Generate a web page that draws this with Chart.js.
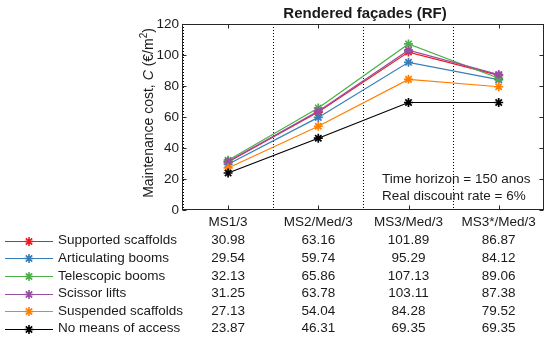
<!DOCTYPE html>
<html>
<head>
<meta charset="utf-8">
<script src="https://cdn.jsdelivr.net/npm/chart.js@4/dist/chart.umd.min.js"></script>
<style>
html,body{margin:0;padding:0;background:#fff;}
canvas{display:block;}
</style>
</head>
<body>
<canvas id="c" width="550" height="345"></canvas>
<script>
// ---- data ----
const categories = ['MS1/3', 'MS2/Med/3', 'MS3/Med/3', 'MS3*/Med/3'];
const seriesNames = ['Supported scaffolds', 'Articulating booms', 'Telescopic booms', 'Scissor lifts', 'Suspended scaffolds', 'No means of access'];
const supportedScaffolds = [30.98, 63.16, 101.89, 86.87];
const articulatingBooms = [29.54, 59.74, 95.29, 84.12];
const telescopicBooms = [32.13, 65.86, 107.13, 89.06];
const telescopicBoomsPlotted = [32.13, 65.86, 107.13, 85.0]; // as drawn in the plot
const scissorLifts = [31.25, 63.78, 103.11, 87.38];
const suspendedScaffolds = [27.13, 54.04, 84.28, 79.52];
const noMeansOfAccess = [23.87, 46.31, 69.35, 69.35];
const yTicks = [0, 20, 40, 60, 80, 100, 120];
const titleText = 'Rendered façades (RF)';
const noteLines = ['Time horizon = 150 anos', 'Real discount rate = 6%'];

const tableValues = [supportedScaffolds, articulatingBooms, telescopicBooms, scissorLifts, suspendedScaffolds, noMeansOfAccess];
const plotValues = [supportedScaffolds, articulatingBooms, telescopicBoomsPlotted, scissorLifts, suspendedScaffolds, noMeansOfAccess];
const colors = ['#f01a1c', '#377eb8', '#4daf4a', '#984ea3', '#ff7f00', '#000000'];

const FONT = '"Liberation Sans", Arial, Helvetica, sans-serif';
const TXT = '#1a1a1a';

function drawStar(ctx, cx, cy, r, color, lw) {
  ctx.save();
  ctx.strokeStyle = color; ctx.lineWidth = lw; ctx.setLineDash([]);
  ctx.beginPath();
  for (let k = 0; k < 4; k++) {
    const a = k * Math.PI / 4;
    ctx.moveTo(cx - r * Math.cos(a), cy - r * Math.sin(a));
    ctx.lineTo(cx + r * Math.cos(a), cy + r * Math.sin(a));
  }
  ctx.stroke();
  ctx.restore();
}

const decor = {
  id: 'decor',
  afterDraw(chart) {
    const ctx = chart.ctx, a = chart.chartArea, x = chart.scales.x, y = chart.scales.y;
    ctx.save();
    // axes box
    ctx.strokeStyle = '#262626'; ctx.lineWidth = 1; ctx.setLineDash([]);
    const L = Math.round(a.left) - 0.5, R = Math.round(a.right) - 0.5, T = Math.round(a.top) + 0.5, B = Math.round(a.bottom) - 0.5;
    ctx.strokeRect(L, T, R - L, B - T);
    // inward ticks
    ctx.beginPath();
    categories.forEach((c, i) => {
      const px = Math.round(x.getPixelForValue(i)) + 0.5;
      ctx.moveTo(px, B); ctx.lineTo(px, B - 4);
      ctx.moveTo(px, T); ctx.lineTo(px, T + 4);
    });
    yTicks.forEach(v => {
      const py = Math.round(y.getPixelForValue(v)) + 0.5;
      ctx.moveTo(L, py); ctx.lineTo(L + 4, py);
      ctx.moveTo(R, py); ctx.lineTo(R - 4, py);
    });
    ctx.stroke();

    // title
    ctx.fillStyle = TXT;
    ctx.font = 'bold 15px ' + FONT;
    ctx.textAlign = 'center'; ctx.textBaseline = 'middle';
    ctx.fillText(titleText, 365, 14);

    // note
    ctx.font = '13.5px ' + FONT;
    ctx.textAlign = 'left';
    ctx.fillText(noteLines[0], 382, 179);
    ctx.fillText(noteLines[1], 382, 196);

    // y axis title (rotated, mixed styles)
    ctx.save();
    ctx.translate(149, 113);
    ctx.rotate(-Math.PI / 2);
    const parts = [
      { t: 'Maintenance cost, ', f: '14px ' + FONT, dy: 0 },
      { t: 'C', f: 'italic 14px ' + FONT, dy: 0 },
      { t: ' (€/m', f: '14px ' + FONT, dy: 0 },
      { t: '2', f: '10px ' + FONT, dy: -5 },
      { t: ')', f: '14px ' + FONT, dy: 0 }
    ];
    let total = 0;
    parts.forEach(p => { ctx.font = p.f; p.w = ctx.measureText(p.t).width; total += p.w; });
    let cx = -total / 2;
    ctx.textAlign = 'left'; ctx.textBaseline = 'middle';
    parts.forEach(p => { ctx.font = p.f; ctx.fillText(p.t, cx, p.dy); cx += p.w; });
    ctx.restore();

    // table with legend
    ctx.font = '13.5px ' + FONT;
    ctx.textBaseline = 'middle';
    seriesNames.forEach((name, k) => {
      const ry = 240.7 + k * 17.6;
      ctx.strokeStyle = colors[k]; ctx.lineWidth = 1.2; ctx.setLineDash([]);
      ctx.beginPath(); ctx.moveTo(5, Math.round(ry) + 0.5); ctx.lineTo(53, Math.round(ry) + 0.5); ctx.stroke();
      drawStar(ctx, 29, Math.round(ry) + 0.5, 4.5, colors[k], 1.6);
      ctx.fillStyle = TXT;
      ctx.textAlign = 'left';
      ctx.fillText(name, 58, ry);
      ctx.textAlign = 'center';
      tableValues[k].forEach((v, i) => {
        ctx.fillText(v.toFixed(2), x.getPixelForValue(i), ry);
      });
    });
    ctx.restore();
  }
};

new Chart(document.getElementById('c'), {
  type: 'line',
  data: {
    labels: categories,
    datasets: seriesNames.map((n, k) => ({
      label: n,
      data: plotValues[k],
      borderColor: colors[k],
      backgroundColor: colors[k],
      borderWidth: 1.2,
      pointStyle: 'star',
      pointRadius: 4.5,
      pointBorderWidth: 1.7,
      pointHoverRadius: 4.5,
      tension: 0,
      fill: false,
      order: seriesNames.length - k
    }))
  },
  options: {
    responsive: false,
    animation: false,
    devicePixelRatio: 1,
    layout: { padding: { top: 24, right: 6, bottom: 0, left: 0 } },
    plugins: { legend: { display: false }, title: { display: false }, tooltip: { enabled: false } },
    scales: {
      x: {
        type: 'category',
        offset: true,
        afterFit(s) { s.height = 135; },
        grid: { display: true, offset: true, drawOnChartArea: true, drawTicks: false, color: '#000', lineWidth: 1 },
        border: { display: false, dash: [1, 2] },
        ticks: { color: TXT, font: { family: FONT, size: 13.5 }, padding: 4, maxRotation: 0, autoSkip: false }
      },
      y: {
        min: 0, max: 120,
        afterFit(s) { s.width = 183; },
        afterBuildTicks(s) { s.ticks = yTicks.map(v => ({ value: v })); },
        grid: { display: false, drawTicks: false },
        border: { display: false },
        ticks: { color: TXT, font: { family: FONT, size: 13.5 }, padding: 4 }
      }
    }
  },
  plugins: [decor]
});
</script>
</body>
</html>
